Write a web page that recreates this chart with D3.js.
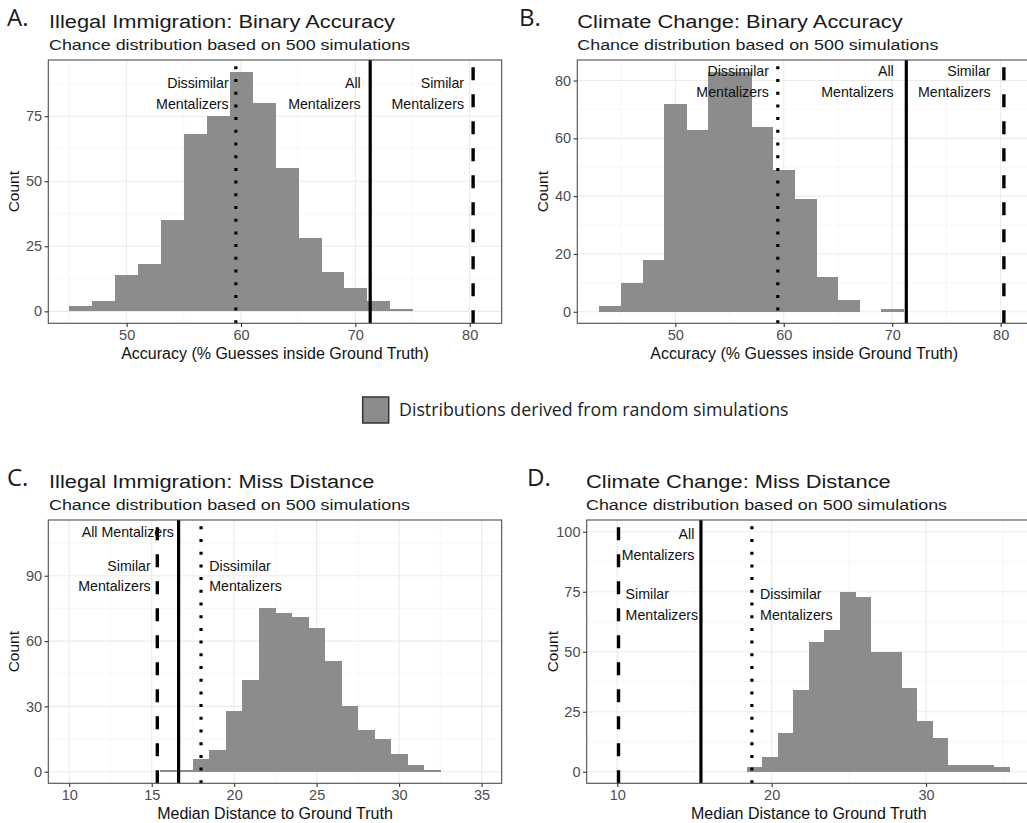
<!DOCTYPE html>
<html><head><meta charset="utf-8">
<script src="https://cdn.jsdelivr.net/npm/d3@7"></script>
<style>body{margin:0;background:#fff} svg{display:block}</style>
</head><body>
<svg id="chart" width="1027" height="823"></svg>
<script>
// ---------------- DATA ----------------
// histogram bin edges and counts (500 simulations each)
const immAccEdges  = [45,47,49,51,53,55,57,59,61,63,65,67,69,71,73,75];
const immAccCounts = [2,4,14,18,35,68,75,92,80,55,28,15,9,4,1];

const cliAccEdges  = [43,45,47,49,51,53,55,57,59,61,63,65,67,69,71];
const cliAccCounts = [2,10,18,72,63,83,83,64,49,39,12,4,0,1];

const immDistEdges  = [15.5,16.5,17.5,18.5,19.5,20.5,21.5,22.5,23.5,24.5,25.5,26.5,27.5,28.5,29.5,30.5,31.5,32.5];
const immDistCounts = [1,1,6,10,28,42,75,73,71,66,51,30,19,15,8,3,1];

const cliDistEdges  = [18.4,19.4,20.4,21.4,22.4,23.4,24.4,25.4,26.4,27.4,28.4,29.4,30.4,31.4,32.4,33.4,34.4,35.4];
const cliDistCounts = [2,6,16,34,54,59,75,73,50,50,35,21,14,3,3,3,2];

// observed values: [Dissimilar, All, Similar] mentalizers
const groupNames    = ["Dissimilar", "All", "Similar"];
const immAccLines   = [59.55, 71.3, 80.3];
const cliAccLines   = [59.45, 71.3, 80.3];
const immDistLines  = [17.99, 16.63, 15.34];
const cliDistLines  = [18.72, 15.42, 10.08];

// annotation anchors (data units): [Dissimilar, All, Similar]
const immAccNoteX  = [58.92, 70.47, 79.51];
const immAccNoteY  = [83.7, 83.7, 83.7];
const cliAccNoteX  = [58.63, 70.14, 79.07];
const cliAccNoteY  = [79.7, 79.7, 79.7];
const immDistNoteX = [18.49, 16.35, 14.94];
const immDistNoteY = [90, 110.2, 90];
const cliDistNoteX = [19.25, 14.99, 10.54];
const cliDistNoteY = [69.8, 94.8, 69.8];

// tick values
const accXTicks     = [50, 60, 70, 80];
const immAccYTicks  = [0, 25, 50, 75];
const cliAccYTicks  = [0, 20, 40, 60, 80];
const immDistXTicks = [10, 15, 20, 25, 30, 35];
const immDistYTicks = [0, 30, 60, 90];
const cliDistXTicks = [10, 20, 30];
const cliDistYTicks = [0, 25, 50, 75, 100];

const titles    = ["Illegal Immigration: Binary Accuracy", "Climate Change: Binary Accuracy",
                   "Illegal Immigration: Miss Distance", "Climate Change: Miss Distance"];
const letters   = ["A.", "B.", "C.", "D."];
const subtitle  = "Chance distribution based on 500 simulations";
const xTitles   = ["Accuracy (% Guesses inside Ground Truth)", "Median Distance to Ground Truth"];
const legendLabel = "Distributions derived from random simulations";

// ---------------- LAYOUT ----------------
const W = 1027, H = 823;
const svg = d3.select("#chart");
svg.append("rect").attr("width", W).attr("height", H).attr("fill", "#fff");

const FONT = "'Liberation Sans', Arial, Helvetica, sans-serif";
const FONT2 = "'Open Sans', 'Noto Sans', sans-serif";
const barFill = "#8c8c8c";

function midpoints(t){ const m=[]; for(let i=0;i<t.length-1;i++) m.push((t[i]+t[i+1])/2); return m; }

const panels = [
  {edges: immAccEdges, counts: immAccCounts, lines: immAccLines, noteX: immAccNoteX, noteY: immAccNoteY,
   noteAnchor: ["end","end","end"], noteSplit: [true,true,true],
   xDomain:[43.15,82.8], yDomain:[-4.6,96.6], xTicks: accXTicks, xMinor:[45,55,65,75],
   yTicks: immAccYTicks, xTitle: xTitles[0], box:{x0:48.3,x1:501.7,y0:60,y1:323.3},
   letter: letters[0], title: titles[0], letterX: 7, titleX: 49, top: 0},
  {edges: cliAccEdges, counts: cliAccCounts, lines: cliAccLines, noteX: cliAccNoteX, noteY: cliAccNoteY,
   noteAnchor: ["end","end","end"], noteSplit: [true,true,true],
   xDomain:[40.96,82.8], yDomain:[-4.0,87.1], xTicks: accXTicks, xMinor:[45,55,65,75],
   yTicks: cliAccYTicks, xTitle: xTitles[0], box:{x0:577.3,x1:1031,y0:60,y1:323.3},
   letter: letters[1], title: titles[1], letterX: 519, titleX: 577.3, top: 0},
  {edges: immDistEdges, counts: immDistCounts, lines: immDistLines, noteX: immDistNoteX, noteY: immDistNoteY,
   noteAnchor: ["start","end","end"], noteSplit: [true,false,true],
   xDomain:[8.73,36.22], yDomain:[-5.3,115.6], xTicks: immDistXTicks, xMinor:[12.5,17.5,22.5,27.5,32.5],
   yTicks: immDistYTicks, xTitle: xTitles[1], box:{x0:48.3,x1:501.7,y0:520,y1:783.3},
   letter: letters[2], title: titles[2], letterX: 7, titleX: 49, top: 460},
  {edges: cliDistEdges, counts: cliDistCounts, lines: cliDistLines, noteX: cliDistNoteX, noteY: cliDistNoteY,
   noteAnchor: ["start","end","start"], noteSplit: [true,true,true],
   xDomain:[8.02,36.8], yDomain:[-4.8,104.9], xTicks: cliDistXTicks, xMinor:[15,25,35],
   yTicks: cliDistYTicks, xTitle: xTitles[1], box:{x0:586.7,x1:1031,y0:520,y1:783.3},
   letter: letters[3], title: titles[3], letterX: 527, titleX: 586, top: 460}
];

const lineStyles = [
  {dash: "3,9.7", width: 3.2},   // Dissimilar: dotted
  {dash: null,    width: 3.2},   // All: solid
  {dash: "13,14", width: 3.4}    // Similar: dashed
];

panels.forEach((p, i) => {
  const b = p.box;
  const x = d3.scaleLinear().domain(p.xDomain).range([b.x0, b.x1]);
  const y = d3.scaleLinear().domain(p.yDomain).range([b.y1, b.y0]);
  const g = svg.append("g");

  // headings
  g.append("text").attr("x", p.letterX).attr("y", p.top + 26)
    .attr("font-family", FONT2).attr("font-size", 24).attr("fill", "#1a1a1a").text(p.letter);
  g.append("text").attr("transform", `translate(${p.titleX},${p.top + 28.3}) scale(1.15,1)`)
    .attr("font-family", FONT).attr("font-size", 19).attr("fill", "#1a1a1a").text(p.title);
  g.append("text").attr("transform", `translate(${p.titleX},${p.top + 50}) scale(1.155,1)`)
    .attr("font-family", FONT).attr("font-size", 15.5).attr("fill", "#1a1a1a").text(subtitle);

  const clipId = "clip" + i;
  svg.append("clipPath").attr("id", clipId).append("rect")
    .attr("x", b.x0).attr("y", b.y0).attr("width", b.x1 - b.x0).attr("height", b.y1 - b.y0);
  const pg = g.append("g").attr("clip-path", `url(#${clipId})`);

  // grid
  const yMinor = midpoints(p.yTicks).concat([p.yTicks[p.yTicks.length-1] + (p.yTicks[1]-p.yTicks[0])/2]);
  pg.selectAll(".gxm").data(p.xMinor).join("line")
    .attr("x1", d => x(d)).attr("x2", d => x(d)).attr("y1", b.y0).attr("y2", b.y1)
    .attr("stroke", "#f2f2f2").attr("stroke-width", 0.6);
  pg.selectAll(".gym").data(yMinor).join("line")
    .attr("y1", d => y(d)).attr("y2", d => y(d)).attr("x1", b.x0).attr("x2", b.x1)
    .attr("stroke", "#f2f2f2").attr("stroke-width", 0.6);
  pg.selectAll(".gx").data(p.xTicks).join("line")
    .attr("x1", d => x(d)).attr("x2", d => x(d)).attr("y1", b.y0).attr("y2", b.y1)
    .attr("stroke", "#ebebeb").attr("stroke-width", 1.1);
  pg.selectAll(".gy").data(p.yTicks).join("line")
    .attr("y1", d => y(d)).attr("y2", d => y(d)).attr("x1", b.x0).attr("x2", b.x1)
    .attr("stroke", "#ebebeb").attr("stroke-width", 1.1);

  // bars
  const bins = p.counts.map((c, k) => ({x0: p.edges[k], x1: p.edges[k+1], c}));
  pg.append("g").attr("shape-rendering", "crispEdges")
    .selectAll("rect").data(bins.filter(d => d.c > 0)).join("rect")
    .attr("x", d => x(d.x0)).attr("width", d => x(d.x1) - x(d.x0) + 0.5)
    .attr("y", d => y(d.c)).attr("height", d => y(0) - y(d.c))
    .attr("fill", barFill);

  // reference lines
  p.lines.forEach((v, k) => {
    const s = lineStyles[k];
    const ln = pg.append("line").attr("x1", x(v)).attr("x2", x(v)).attr("y1", b.y1).attr("y2", b.y0)
      .attr("stroke", "#000").attr("stroke-width", s.width);
    if (s.dash) ln.attr("stroke-dasharray", s.dash);
  });

  // annotations
  p.noteX.forEach((nx, k) => {
    const lines = p.noteSplit[k] ? [groupNames[k], "Mentalizers"] : [groupNames[k] + " Mentalizers"];
    const cy = y(p.noteY[k]);
    const t = g.append("text").attr("font-family", FONT).attr("font-size", 14.2)
      .attr("fill", "#111").attr("text-anchor", p.noteAnchor[k]);
    lines.forEach((L, j) => {
      const off = (j - (lines.length - 1) / 2) * 20.7;
      t.append("tspan").attr("x", x(nx)).attr("y", cy + off).attr("dy", "0.36em").text(L);
    });
  });

  // border
  g.append("rect").attr("x", b.x0).attr("y", b.y0).attr("width", b.x1 - b.x0).attr("height", b.y1 - b.y0)
    .attr("fill", "none").attr("stroke", "#4d4d4d").attr("stroke-width", 1.1);

  // axes
  const ax = g.append("g").attr("transform", `translate(0,${b.y1})`)
    .call(d3.axisBottom(x).tickValues(p.xTicks).tickSize(3.7).tickPadding(3).tickFormat(d3.format("d")));
  const ay = g.append("g").attr("transform", `translate(${b.x0},0)`)
    .call(d3.axisLeft(y).tickValues(p.yTicks).tickSize(3.7).tickPadding(2.5).tickFormat(d3.format("d")));
  [ax, ay].forEach(a => {
    a.select(".domain").remove();
    a.selectAll(".tick line").attr("stroke", "#333").attr("stroke-width", 1.1);
    a.selectAll(".tick text").attr("fill", "#4d4d4d").attr("font-family", FONT).attr("font-size", 14.5);
  });

  // axis titles
  g.append("text").attr("x", (b.x0 + b.x1) / 2)
    .attr("y", b.y1 + 36).attr("text-anchor", "middle")
    .attr("font-family", FONT).attr("font-size", 16).attr("fill", "#111").text(p.xTitle);
  g.append("text").attr("transform", `translate(${b.x0 - 29},${(b.y0 + b.y1) / 2}) rotate(-90)`)
    .attr("text-anchor", "middle").attr("font-family", FONT).attr("font-size", 15.5).attr("fill", "#111").text("Count");
});

// legend
const lg = svg.append("g");
lg.append("rect").attr("x", 362.7).attr("y", 397).attr("width", 26).attr("height", 26)
  .attr("fill", barFill).attr("stroke", "#333").attr("stroke-width", 1.5);
lg.append("text").attr("x", 399).attr("y", 410).attr("dy", "0.35em")
  .attr("font-family", FONT2).attr("font-size", 17.8).attr("fill", "#222").text(legendLabel);
</script>
</body></html>
